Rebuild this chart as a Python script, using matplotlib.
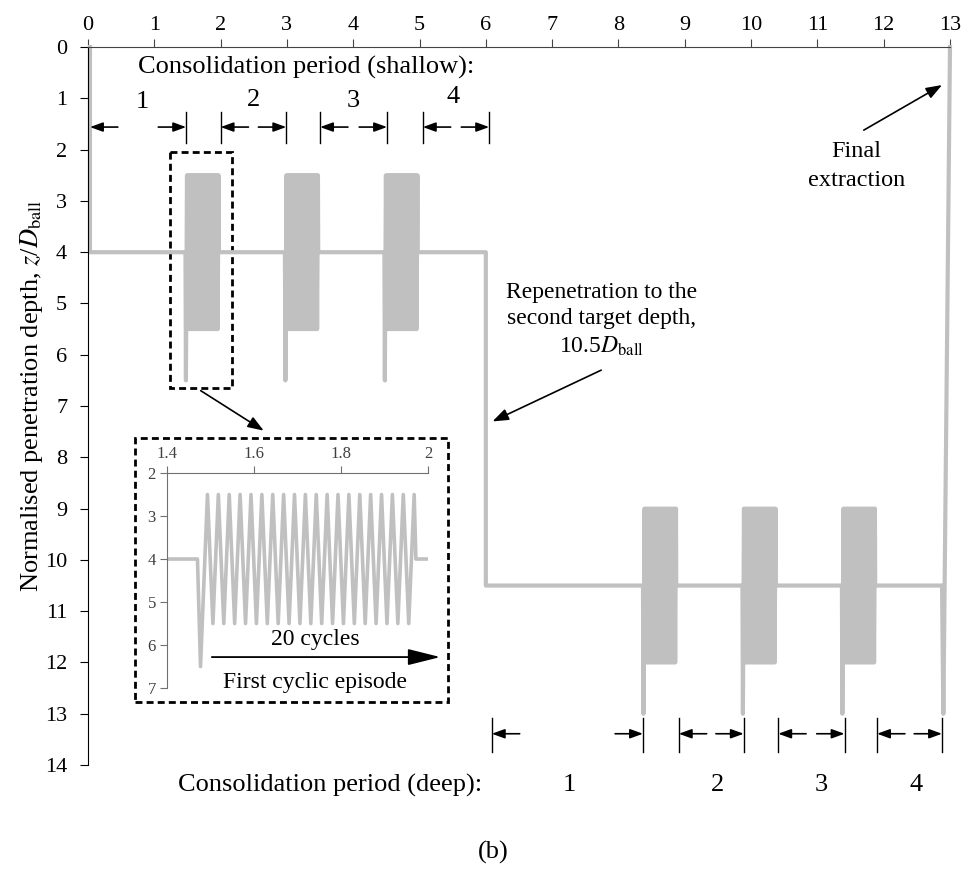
import matplotlib
matplotlib.use('Agg')
import matplotlib.pyplot as plt
from matplotlib.patches import Rectangle

plt.rcParams['font.family'] = ['Liberation Serif', 'DejaVu Serif']
plt.rcParams['mathtext.fontset'] = 'stix'

# test schedule (time in arbitrary units, depth in z/D_ball)
shallow_start = [1.47, 2.97, 4.47]
deep_start = [8.37, 9.87, 11.37]
n_cycles = 20
cycle_period = 0.025
shallow_depth = [4.0, 2.5, 5.5, 6.5]   # base, top, bottom, spike
deep_depth = [10.5, 9.0, 12.0, 13.0]
first_drop_t = 0.03
repen_t = 6.0
final_t = [12.88, 12.9, 13.0]

# consolidation period markers
shallow_bounds = [(0.03, 1.48), (2.0, 2.99), (3.5, 4.51), (5.05, 6.05)]
shallow_ticks = [1.48, 2.0, 2.99, 3.5, 4.51, 5.05, 6.05]
shallow_lab_x = [0.82, 2.49, 4.0, 5.5]
shallow_lab_z = [1.07, 1.03, 1.05, 0.97]
deep_bounds = [(6.09, 8.37), (8.91, 9.89), (10.41, 11.41), (11.9, 12.88)]
deep_ticks = [6.09, 8.37, 8.91, 9.89, 10.41, 11.41, 11.9, 12.88]
deep_lab_x = [7.26, 9.49, 11.06, 12.49]
period_names = ['1', '2', '3', '4']

grey = '#c0c0c0'


def episode(t0, depths):
    base, top, bottom, spike = depths
    ts = [t0, t0 + 0.007, t0 + 0.023]
    zs = [base, spike, top]
    for k in range(n_cycles - 1):
        ts += [t0 + 0.023 + cycle_period * (k + 0.5), t0 + 0.023 + cycle_period * (k + 1)]
        zs += [bottom, top]
    ts.append(ts[-1] + 0.004)
    zs.append(base)
    return ts, zs


t = [first_drop_t, first_drop_t]
z = [0.0, shallow_depth[0]]
for s in shallow_start:
    a, b = episode(s, shallow_depth)
    t += a
    z += b
t += [repen_t, repen_t]
z += [shallow_depth[0], deep_depth[0]]
for s in deep_start:
    a, b = episode(s, deep_depth)
    t += a
    z += b
t += final_t
z += [deep_depth[0], deep_depth[3], 0.0]

fig = plt.figure(figsize=(9.67, 8.83), dpi=100)
ax = fig.add_axes([0.0910, 0.1336, 0.8914, 0.8131])
ax.plot(t, z, color=grey, lw=3, clip_on=False)
ax.set_xlim(0, 13)
ax.set_ylim(14, 0)
ax.set_xticks(range(0, 14))
ax.set_yticks(range(0, 15))
ax.xaxis.tick_top()
ax.spines['right'].set_visible(False)
ax.spines['bottom'].set_visible(False)
ax.spines['top'].set_color('#444444')
ax.tick_params(axis='both', direction='out', length=6, labelsize=16)
ax.tick_params(axis='x', pad=3, color='#444444')
ax.tick_params(axis='y', pad=9)
ax.set_ylabel(r'Normalised penetration depth, $z$/$D_{\rm ball}$', fontsize=19)
ax.yaxis.set_label_coords(-0.05, 0.515)

arr = dict(arrowstyle='-|>,head_length=0.55,head_width=0.2', color='k', lw=1.2,
           mutation_scale=14, shrinkA=0, shrinkB=0)
big_arr = dict(arrowstyle='-|>,head_length=0.6,head_width=0.22', color='k', lw=1.2,
               mutation_scale=16, shrinkA=0, shrinkB=0)
L = 0.42


def period_marks(bounds, ticks, zrow, ztick):
    for a, b in bounds:
        ax.annotate('', xy=(a, zrow), xytext=(a + L, zrow), arrowprops=arr, annotation_clip=False)
        ax.annotate('', xy=(b, zrow), xytext=(b - L, zrow), arrowprops=arr, annotation_clip=False)
    for x in ticks:
        ax.plot([x, x], ztick, color='k', lw=1, clip_on=False)


period_marks(shallow_bounds, shallow_ticks, 1.56, [1.27, 1.87])
period_marks(deep_bounds, deep_ticks, 13.39, [13.08, 13.74])

ax.text(3.29, 0.39, 'Consolidation period (shallow):', fontsize=19, ha='center', va='center')
for x, zz, s in zip(shallow_lab_x, shallow_lab_z, period_names):
    ax.text(x, zz, s, fontsize=19, ha='center', va='center')
ax.text(3.65, 14.39, 'Consolidation period (deep):', fontsize=19, ha='center', va='center', clip_on=False)
for x, s in zip(deep_lab_x, period_names):
    ax.text(x, 14.39, s, fontsize=19, ha='center', va='center', clip_on=False)

ax.text(11.59, 2.32, 'Final\nextraction', fontsize=17.5, ha='center', va='center', linespacing=1.45)
ax.annotate('', xy=(12.88, 0.74), xytext=(11.7, 1.62), arrowprops=big_arr)
ax.text(7.74, 5.32, 'Repenetration to the\nsecond target depth,\n10.5$D_{\\rm ball}$',
        fontsize=17, ha='center', va='center', linespacing=1.3)
ax.annotate('', xy=(6.1, 7.3), xytext=(7.74, 6.3), arrowprops=big_arr)

# dashed box around first episode and arrow to the zoomed view
ax.add_patch(Rectangle((1.235, 2.05), 2.17 - 1.235, 6.65 - 2.05, fill=False, ec='k',
                       lw=2, ls=(0, (2.5, 1.5))))
ax.annotate('', xy=(2.65, 7.48), xytext=(1.7, 6.7), arrowprops=big_arr)

# zoomed view of first cyclic episode
fig.patches.append(Rectangle((0.1396, 0.205), 0.4633 - 0.1396, 0.504 - 0.205, fill=False, ec='k',
                             lw=2, ls=(0, (2.5, 1.5)), transform=fig.transFigure))
ins = fig.add_axes([0.1727, 0.2208, 0.2700, 0.2435])
ins.plot(t, z, color=grey, lw=2.6)
ins.set_xlim(1.4, 2.0)
ins.set_ylim(7, 2)
ins.set_xticks([1.4, 1.6, 1.8, 2.0])
ins.set_xticklabels(['1.4', '1.6', '1.8', '2'])
ins.set_yticks(range(2, 8))
ins.xaxis.tick_top()
ins.spines['right'].set_visible(False)
ins.spines['bottom'].set_visible(False)
for s in ['top', 'left']:
    ins.spines[s].set_color('#707070')
ins.tick_params(direction='out', length=5, labelsize=12, color='#707070', labelcolor='#404040', pad=3)
ins.text(1.74, 5.88, '20 cycles', fontsize=17, ha='center', va='center')
ins.text(1.74, 6.86, 'First cyclic episode', fontsize=17, ha='center', va='center')
ins.annotate('', xy=(2.028, 6.28), xytext=(1.503, 6.28), annotation_clip=False,
             arrowprops=dict(arrowstyle='-|>,head_length=1.0,head_width=0.25', color='k', lw=1.3,
                             mutation_scale=20, shrinkA=0, shrinkB=0))

fig.text(0.51, 0.035, '(b)', fontsize=19, ha='center', va='center')

fig.savefig('out.png', dpi=100)
